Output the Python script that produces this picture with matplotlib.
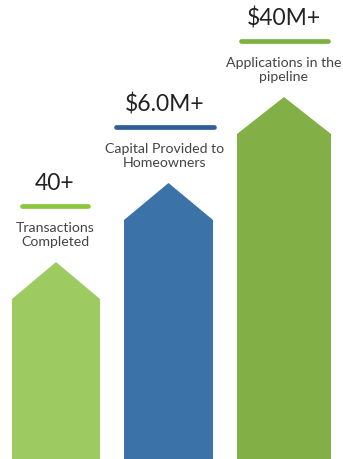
import matplotlib
matplotlib.use("Agg")
import matplotlib.pyplot as plt
from matplotlib.patches import Polygon

# headline figures and captions for each arrow
headlines = ["40+", "$6.0M+", "$40M+"]
captions = ["Transactions\nCompleted", "Capital Provided to\nHomeowners", "Applications in the\npipeline"]
# arrow heights (shoulder level)
levels = [160, 239, 325]
body_colors = ["#9dcb62", "#3b73a8", "#82b046"]
line_colors = ["#8cc63e", "#2f5f99", "#7bb241"]

centers = [56, 168.5, 284]
half_w = [44, 44.5, 47]
text_x = [55, 165, 284]
line_half = [33, 49, 43.5]
head_h = 37

plt.rcParams['font.family'] = ['Lato', 'DejaVu Sans']

fig = plt.figure(figsize=(3.43, 4.59), dpi=100)
ax = fig.add_axes([0, 0, 1, 1])
ax.set_xlim(0, 343)
ax.set_ylim(0, 459)
ax.axis("off")

for i in range(3):
    c, w, lvl = centers[i], half_w[i], levels[i]
    pts = [(c - w, 0), (c - w, lvl), (c, lvl + head_h), (c + w, lvl), (c + w, 0)]
    ax.add_patch(Polygon(pts, closed=True, facecolor=body_colors[i], edgecolor="none"))

    top = lvl + head_h
    tx = text_x[i]
    # caption block above the arrow head
    ax.text(tx, top + 27, captions[i], ha="center", va="center", fontsize=10.2,
            color="#444444", linespacing=1.15)
    ax.plot([tx - line_half[i], tx + line_half[i]], [top + 56, top + 56],
            color=line_colors[i], lw=3.4, solid_capstyle="round")
    ax.text(tx, top + 78, headlines[i], ha="center", va="center", fontsize=16.5,
            color="#222222")

fig.savefig("out.png", dpi=100)
